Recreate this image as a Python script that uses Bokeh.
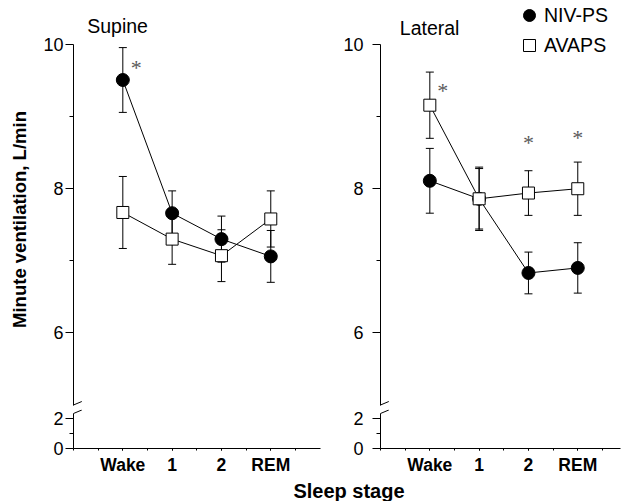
import math
from bokeh.plotting import figure
from bokeh.layouts import column, row
from bokeh.models import (FixedTicker, Range1d, Label, Legend, LegendItem, Arrow,
                          ColumnDataSource, Whisker, TeeHead)
from bokeh.embed import file_html
from bokeh.resources import INLINE
from bokeh.core.properties import value

# ---------------- data ----------------
stages = ["Wake", "1", "2", "REM"]
stage_pos = [1, 2, 3, 4]

supine_niv = [9.50, 7.65, 7.29, 7.05]
supine_niv_sd = [0.45, 0.31, 0.32, 0.36]
supine_avaps = [7.66, 7.29, 7.06, 7.57]
supine_avaps_sd = [0.50, 0.35, 0.36, 0.39]

lateral_niv = [8.10, 7.85, 6.82, 6.89]
lateral_niv_sd = [0.45, 0.44, 0.29, 0.35]
lateral_avaps = [9.15, 7.85, 7.93, 7.99]
lateral_avaps_sd = [0.46, 0.42, 0.31, 0.37]

supine_star_x = [1.27]
supine_star_y = [9.70]
lateral_star_x = [1.26, 3.0, 4.0]
lateral_star_y = [9.38, 8.66, 8.73]

upper_ticks = [6, 8, 10]
upper_minor = [7, 9]
lower_ticks = [0, 2]
lower_minor = [1]
x_minor = [0, 0.5, 1, 1.5, 2, 2.5, 3, 3.5, 4, 4.5]

panel_titles = ["Supine", "Lateral"]
series_names = ["NIV-PS", "AVAPS"]
y_title = "Minute ventilation, L/min"
x_title = "Sleep stage"

# ---------------- layout constants ----------------
FONT = "Liberation Sans"
W_YT = 30
W_LEFT, W_RIGHT = 303, 289
B_LEFT, B_RIGHT = 43, 47
R_LEFT, R_RIGHT = 5, 2
LOW_FRAME = 39
LOW_BORDER_BOTTOM = 31
H_UP, H_LOW = 409, LOW_FRAME + LOW_BORDER_BOTTOM
H_STRIP = 501 - H_UP - H_LOW
PX_X = 49.32
PX_UP = 72.0
PX_LOW = 15.0
UP_TOP = 10 + 43.5 / PX_UP
UP_BOT = UP_TOP - H_UP / PX_UP
BREAK_UP = 4.986
BREAK_LOW = 2.333
LOW_TOP = LOW_FRAME / PX_LOW
XMAX_L = (W_LEFT - B_LEFT - R_LEFT) / PX_X
XMAX_R = (W_RIGHT - B_RIGHT - R_RIGHT) / PX_X
SLASH_DX = 8.3 / PX_X
LABEL_SHIFT = 7.0  # px, compensates the label baseline placement


def base_fig(width, height, xr, yr, left, right, bottom, x_axis=True, y_axis=True):
    p = figure(width=width, height=height, x_range=xr, y_range=yr,
               output_backend="svg", toolbar_location=None,
               x_axis_location="below" if x_axis else None,
               y_axis_location="left" if y_axis else None,
               min_border_left=left, min_border_right=right,
               min_border_top=0, min_border_bottom=bottom,
               outline_line_color=None, background_fill_color="white",
               border_fill_color="white")
    for g in p.grid:
        g.visible = False
    return p


def style_axis(ax, font_size, bold=False):
    ax.axis_line_color = "black"
    ax.axis_line_width = 1
    ax.major_tick_line_color = "black"
    ax.minor_tick_line_color = "black"
    ax.major_label_text_font = FONT
    ax.major_label_text_font_size = font_size
    ax.major_label_text_color = "black"
    ax.major_label_text_font_style = "bold" if bold else "normal"


def make_upper(width, left, right, xmax, title, title_x, title_y, niv, niv_sd,
               avaps, avaps_sd, star_x, star_y, label_standoff):
    p = base_fig(width, H_UP, Range1d(0, xmax), Range1d(UP_BOT, UP_TOP),
                 left, right, 0, x_axis=False)
    ax = p.yaxis[0]
    style_axis(ax, "18px")
    ax.ticker = FixedTicker(ticks=upper_ticks, minor_ticks=upper_minor)
    ax.bounds = (BREAK_UP, 10)
    ax.major_tick_out = 8
    ax.major_tick_in = 0
    ax.minor_tick_out = 4
    ax.minor_tick_in = 0
    ax.major_label_standoff = label_standoff

    for vals, sds in [(niv, niv_sd), (avaps, avaps_sd)]:
        src = ColumnDataSource(dict(base=stage_pos,
                                    lower=[v - s for v, s in zip(vals, sds)],
                                    upper=[v + s for v, s in zip(vals, sds)]))
        p.add_layout(Whisker(source=src, base="base", lower="lower", upper="upper",
                             dimension="height", line_color="black", line_width=1,
                             upper_head=TeeHead(size=8, line_color="black", line_width=1),
                             lower_head=TeeHead(size=8, line_color="black", line_width=1)))

    p.line(stage_pos, niv, line_color="black", line_width=1)
    p.line(stage_pos, avaps, line_color="black", line_width=1)
    r_niv = p.scatter(stage_pos, niv, marker="circle", size=13,
                      fill_color="black", line_color="black")
    r_av = p.scatter(stage_pos, avaps, marker="square", size=12,
                     fill_color="white", line_color="black", line_width=1)

    p.text(star_x, star_y, text=["*"] * len(star_x),
           text_font=value("Liberation Serif"), text_font_size="22px",
           text_color="#5a5a5a", text_align="center", text_baseline="middle",
           y_offset=2)

    p.add_layout(Label(x=title_x, y=title_y + LABEL_SHIFT / PX_UP, text=title,
                       text_font=FONT, text_font_size="19.5px", text_color="black",
                       text_baseline="alphabetic", text_align="left"))

    p.add_layout(Arrow(x_start=-SLASH_DX, y_start=BREAK_UP - 3.5 / PX_UP,
                       x_end=SLASH_DX, y_end=BREAK_UP + 3.5 / PX_UP,
                       end=None, line_color="black", line_width=1))
    return p, r_niv, r_av


def make_lower(width, left, right, xmax, xbound, label_standoff):
    p = base_fig(width, H_LOW, Range1d(0, xmax), Range1d(0, LOW_TOP),
                 left, right, LOW_BORDER_BOTTOM)
    xa = p.xaxis[0]
    style_axis(xa, "17.5px", bold=True)
    xa.ticker = FixedTicker(ticks=stage_pos, minor_ticks=x_minor)
    xa.major_label_overrides = {k: v for k, v in zip(stage_pos, stages)}
    xa.bounds = (0, xbound)
    xa.major_tick_out = 2
    xa.major_tick_in = 0
    xa.minor_tick_out = 2
    xa.minor_tick_in = 0
    xa.major_label_standoff = 4

    ya = p.yaxis[0]
    style_axis(ya, "18px")
    ya.ticker = FixedTicker(ticks=lower_ticks, minor_ticks=lower_minor)
    ya.bounds = (0, BREAK_LOW)
    ya.major_tick_out = 8
    ya.major_tick_in = 0
    ya.minor_tick_out = 4
    ya.minor_tick_in = 0
    ya.major_label_standoff = label_standoff

    p.add_layout(Arrow(x_start=-SLASH_DX, y_start=BREAK_LOW - 3.5 / PX_LOW,
                       x_end=SLASH_DX, y_end=BREAK_LOW + 3.5 / PX_LOW,
                       end=None, line_color="black", line_width=1))
    return p


ul, _, _ = make_upper(W_LEFT, B_LEFT, R_LEFT, XMAX_L, panel_titles[0], 0.278, 10.156,
                      supine_niv, supine_niv_sd, supine_avaps, supine_avaps_sd,
                      supine_star_x, supine_star_y, 2)

ur, r_niv, r_av = make_upper(W_RIGHT, B_RIGHT, R_RIGHT, XMAX_R, panel_titles[1], 0.391, 10.128,
                             lateral_niv, lateral_niv_sd, lateral_avaps, lateral_avaps_sd,
                             lateral_star_x, lateral_star_y, 9)

legend = Legend(items=[LegendItem(label=series_names[0], renderers=[r_niv]),
                       LegendItem(label=series_names[1], renderers=[r_av])],
                location=(134, H_UP - 60), orientation="vertical", padding=0, margin=0,
                spacing=0, glyph_width=30, glyph_height=30, label_standoff=0,
                border_line_color=None, background_fill_alpha=0,
                label_text_font=FONT, label_text_font_size="19.5px",
                label_text_color="black")
ur.add_layout(legend)

ll = make_lower(W_LEFT, B_LEFT, R_LEFT, XMAX_L, 5, 2)
lr = make_lower(W_RIGHT, B_RIGHT, R_RIGHT, XMAX_R, XMAX_R, 9)


def text_strip(width, height):
    s = figure(width=width, height=height, x_range=Range1d(0, width), y_range=Range1d(0, height),
               output_backend="svg", toolbar_location=None,
               x_axis_location=None, y_axis_location=None, min_border=0,
               outline_line_color=None, background_fill_color="white",
               border_fill_color="white")
    for g in s.grid:
        g.visible = False
    return s


# strip holding the vertical axis title (spans the full broken axis)
ystrip = text_strip(W_YT, H_UP + H_LOW)
ystrip.add_layout(Label(x=19, y=H_UP + H_LOW - 219, text=y_title, angle=math.pi / 2,
                        text_align="center", text_baseline="middle",
                        text_font=FONT, text_font_style="bold", text_font_size="18.5px",
                        text_color="black"))

# strip holding the shared horizontal axis title
xstrip = text_strip(W_YT + W_LEFT + W_RIGHT, H_STRIP)
xstrip.add_layout(Label(x=348.5, y=4 + LABEL_SHIFT, text=x_title, text_align="center",
                        text_baseline="alphabetic", text_font=FONT,
                        text_font_style="bold", text_font_size="20px",
                        text_color="black"))

p = column(row(ystrip, column(row(ul, ur), row(ll, lr))), xstrip)

open("out.html", "w").write(file_html(p, INLINE))
